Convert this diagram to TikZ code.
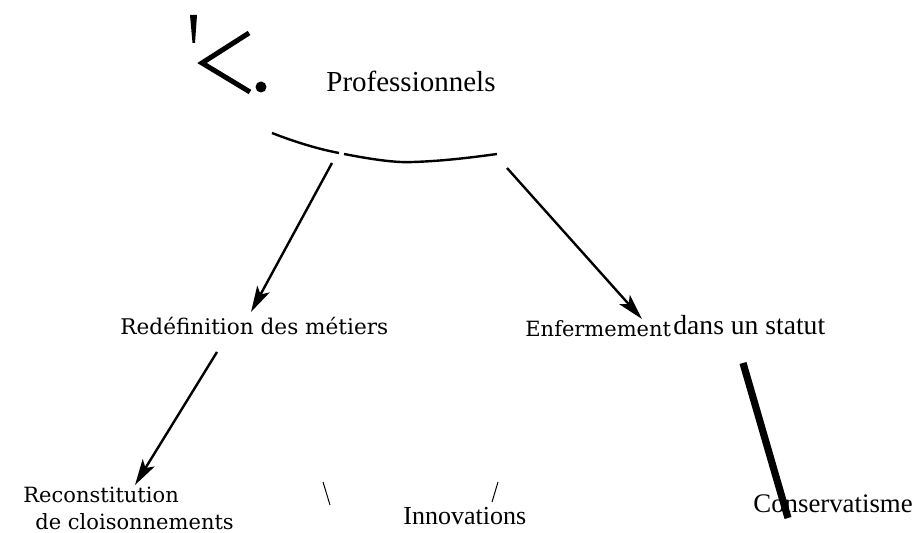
\documentclass[tikz,border=0pt]{standalone}
\usepackage{fontspec}
\setmainfont{Liberation Serif}
\newfontfamily\labelfont{DejaVu Serif}
\usetikzlibrary{arrows.meta}

\begin{document}
\begin{tikzpicture}
[x=0.5pt,y=-0.5pt,%
  timesdecorate/.style={inner sep=0pt,anchor=base west,font=\fontsize{13.5}{16}\selectfont},%
  labeldecorate/.style={inner sep=0pt,anchor=base west,font=\labelfont\fontsize{10.5}{13}\selectfont},%
  arrowdecorate/.style={-{Stealth[length=13pt,width=7pt,inset=3pt]},line width=1.2pt},%
  linedecorate/.style={-,line width=0.5pt}]
\useasboundingbox (0,0) rectangle (916,533);
%% mark in the corner
\fill (190,15) -- (197,15) -- (195,43) -- (192.5,43) -- cycle;
\draw[line width=2.5pt] (249,33) -- (202,63) -- (250,92);
\fill (261,87) circle (5.5);
%% nodes
\node (prof) at (326,92) [timesdecorate,font=\fontsize{14.5}{17}\selectfont] {Professionnels};
\node (redef) at (120,335) [labeldecorate,font=\labelfont\fontsize{10.8}{13}\selectfont] {Redéfinition des métiers};
\node (enferm) at (525,337) [labeldecorate] {Enfermement};
\node (statut) at (673,335) [timesdecorate,font=\fontsize{13.8}{16}\selectfont] {dans un statut};
\node (recon) at (23,503) [labeldecorate] {Reconstitution};
\node (cloison) at (35,530) [labeldecorate] {de cloisonnements};
\node (innov) at (403,525) [timesdecorate,font=\fontsize{13}{16}\selectfont] {Innovations};
\node (conserv) at (753,513) [timesdecorate,font=\fontsize{13.4}{16}\selectfont] {Conservatisme};
%% points on the curve and the ends of the lines
\foreach \pointname/\x/\y in {arcleft/272/133, arcright/497/154,
  lstart/332/163, ltip/251/312, rstart/507/168, rtip/642/319,
  dstart/217/352, dtip/135/485, cutstart/743/363, cutend/788/518,
  bsstart/323/482, bsend/330/505, slstart/498/482, slend/492/502}
{
  \coordinate (\pointname) at (\x,\y);
}
%% curve under Professionnels
\draw[line width=1.2pt] (arcleft) .. controls (295,142) and (318,149) .. (339,153);
\draw[line width=1.2pt] (344,154) .. controls (370,159) and (395,163) .. (413,162)
  .. controls (445,161) and (475,157) .. (arcright);
%% arrows
\path
\foreach \startnode/\endnode in {lstart/ltip, rstart/rtip, dstart/dtip}
{
  (\startnode) edge[arrowdecorate] (\endnode)
};
%% strokes
\draw[line width=3.6pt] (cutstart) -- (cutend);
\draw[linedecorate] (bsstart) -- (bsend);
\draw[linedecorate] (slstart) -- (slend);
\end{tikzpicture}
\end{document}
